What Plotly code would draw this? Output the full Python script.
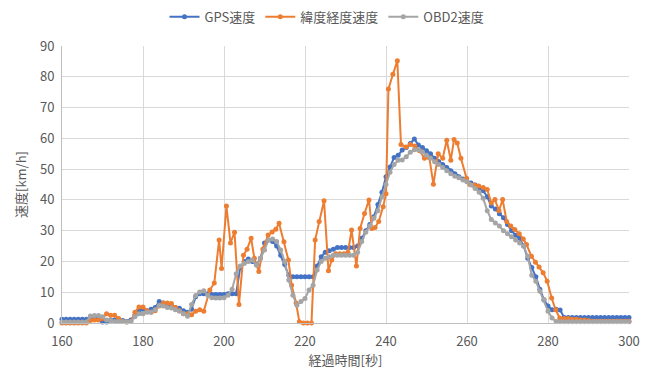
import plotly.graph_objects as go

# Elapsed time [s] for the GPS and OBD2 series (1 Hz)
time_s = list(range(160, 301))

# GPS speed [km/h]
gps_speed = [
    1.2, 1.2, 1.2, 1.2, 1.2, 1.2, 1.2, 1.2, 1.5, 1.5,      # 160-169
    0.3, 0.3, 1.0, 1.0, 0.8, 0.8, 0.5, 1.0, 2.5, 4.0,      # 170-179
    4.5, 4.0, 4.5, 5.0, 7.0, 6.5, 6.0, 5.5, 5.0, 4.8,      # 180-189
    4.0, 3.5, 4.5, 8.5, 9.5, 9.5, 9.5, 9.3, 9.3, 9.3,      # 190-199
    9.3, 9.5, 9.5, 9.5, 18.0, 20.0, 20.8, 20.0, 19.0, 21.0,  # 200-209
    26.0, 27.0, 26.5, 25.0, 22.0, 19.0, 15.5, 15.0, 15.0, 15.0,  # 210-219
    15.0, 15.0, 15.0, 18.5, 21.5, 23.0, 23.5, 24.0, 24.5, 24.5,  # 220-229
    24.5, 24.5, 24.5, 25.0, 27.5, 30.0, 32.0, 34.5, 38.5, 42.5,  # 230-239
    47.5, 50.7, 53.8, 54.5, 56.2, 57.0, 58.3, 59.8, 57.8, 57.0,  # 240-249
    56.0, 55.0, 53.5, 52.5, 51.5, 50.5, 49.5, 48.5, 47.5, 46.8,  # 250-259
    46.0, 45.5, 44.8, 44.0, 43.0, 41.0, 38.0, 37.0, 35.5, 34.2,  # 260-269
    32.0, 30.0, 28.5, 27.5, 25.0, 21.0, 18.0, 15.0, 11.0, 7.5,   # 270-279
    5.5, 4.3, 4.5, 4.2, 1.8, 1.8, 1.8, 1.8, 1.8, 1.8,            # 280-289
    1.8, 1.8, 1.8, 1.8, 1.8, 1.8, 1.8, 1.8, 1.8, 1.8,            # 290-299
    1.8,                                                         # 300
]

# OBD2 speed [km/h]
obd2_speed = [
    0.3, 0.3, 0.3, 0.3, 0.3, 0.3, 0.3, 2.3, 2.4, 2.4,      # 160-169
    2.0, 1.0, 0.8, 0.5, 0.5, 0.5, 0.3, 0.5, 2.0, 3.0,      # 170-179
    3.0, 3.5, 3.5, 4.3, 5.7, 5.5, 5.0, 4.9, 4.3, 3.8,      # 180-189
    3.0, 2.2, 6.0, 8.9, 10.1, 10.5, 9.0, 8.2, 8.1, 8.1,    # 190-199
    8.2, 9.0, 11.0, 16.0, 18.5, 19.3, 20.0, 20.5, 18.8, 21.0,  # 200-209
    23.7, 27.0, 27.3, 26.5, 23.7, 20.0, 14.0, 9.0, 5.8, 7.0,   # 210-219
    8.0, 10.7, 12.3, 17.2, 20.0, 21.0, 21.5, 22.0, 22.0, 22.0,  # 220-229
    22.0, 22.0, 22.0, 23.0, 26.5, 29.5, 31.5, 34.0, 36.5, 41.0,  # 230-239
    45.0, 49.0, 51.5, 52.9, 53.0, 54.0, 55.5, 56.3, 56.3, 55.6,  # 240-249
    54.5, 53.5, 52.4, 51.5, 50.5, 49.5, 48.5, 47.7, 47.2, 46.5,  # 250-259
    45.9, 44.8, 43.7, 42.5, 40.5, 36.5, 33.6, 32.5, 31.5, 30.0,  # 260-269
    29.0, 28.0, 27.0, 26.0, 25.0, 21.7, 15.5, 13.6, 10.3, 7.6,   # 270-279
    3.8, 1.6, 0.5, 0.4, 0.4, 0.4, 0.4, 0.4, 0.4, 0.4,            # 280-289
    0.4, 0.4, 0.4, 0.4, 0.4, 0.4, 0.4, 0.4, 0.4, 0.4,            # 290-299
    0.4,                                                         # 300
]

# Speed computed from latitude/longitude: its own (irregular) timestamps
latlon_time_s = [
    160, 161, 162, 163, 164, 165, 166, 167, 168, 169,
    170, 171, 172, 173, 174, 175, 176, 177, 178, 179,
    180, 181, 182, 183, 184, 185, 186, 187, 188, 189,
    190, 191, 192, 193, 194, 195, 196.5, 197.6, 198.8, 199.4,
    200.6, 201.6, 202.6, 203.7, 204.8, 205.7, 206.7, 207.5, 208.6, 209.6,
    210.9, 211.9, 212.8, 213.6, 214.8, 215.9, 216.7, 217.8, 218.6, 219.6,
    220.6, 221.6, 222.5, 223.5, 224.7, 225.8, 226.6, 227.6, 228.6, 229.6,
    230.6, 231.5, 232.7, 233.6, 234.7, 235.8, 236.5, 237.3, 238.2, 239.3,
    240.0, 240.6, 241.7, 242.8, 243.7, 244.9, 246.0, 247.1, 248.3, 249.5,
    250.7, 251.7, 252.9, 254.0, 255.0, 256.0, 256.8, 257.6, 258.5, 259.9,
    260.7, 261.8, 262.9, 264.0, 265.0, 266.0, 266.9, 267.9, 268.8, 269.8,
    270.8, 271.8, 272.9, 273.9, 274.7, 275.9, 276.9, 277.8, 278.8, 279.8,
    280.9, 281.9, 282.9, 284, 285, 286, 287, 288, 289, 290,
    291, 292, 293, 294, 295, 296, 297, 298, 299, 300,
]
latlon_speed = [
    0.0, 0.0, 0.0, 0.0, 0.0, 0.0, 0.0, 0.8, 1.0, 1.0,
    1.5, 3.0, 2.5, 2.5, 1.5, 0.5, 0.3, 0.5, 3.5, 5.2,
    5.2, 4.0, 3.5, 4.0, 5.5, 6.5, 6.5, 6.3, 5.0, 4.0,
    3.0, 3.0, 2.7, 3.8, 4.3, 3.8, 10.7, 13.0, 27.0, 17.7,
    38.0, 26.0, 29.5, 6.0, 22.0, 24.0, 27.5, 21.0, 16.7, 24.0,
    28.6, 29.6, 30.5, 32.4, 26.4, 20.5, 12.3, 6.5, 0.4, 0.0,
    0.0, 0.0, 27.0, 33.0, 39.7, 17.0, 20.5, 22.5, 22.5, 22.5,
    23.0, 30.2, 18.5, 30.7, 35.6, 40.0, 30.7, 31.0, 33.0, 37.8,
    42.0, 76.0, 80.8, 85.2, 58.0, 57.2, 58.0, 57.5, 56.0, 53.5,
    53.7, 45.1, 55.0, 53.5, 59.4, 52.9, 59.6, 58.5, 53.5, 47.0,
    45.0, 44.8, 44.5, 44.0, 43.4, 39.0, 40.1, 36.5, 40.1, 33.0,
    31.5, 30.4, 29.0, 27.3, 25.5, 21.7, 19.7, 18.2, 16.3, 13.6,
    8.1, 4.3, 1.6, 1.5, 1.5, 1.2, 1.2, 1.0, 1.0, 0.8,
    0.6, 0.6, 0.6, 0.6, 0.6, 0.6, 0.6, 0.6, 0.6, 0.6,
]

x_ticks = [160, 180, 200, 220, 240, 260, 280, 300]
y_ticks = [0, 10, 20, 30, 40, 50, 60, 70, 80, 90]

FONT = "Noto Sans CJK JP"
TEXT = "#595959"
GRID = "#D9D9D9"

series = [
    ("GPS速度", time_s, gps_speed, "#4472C4"),
    ("緯度経度速度", latlon_time_s, latlon_speed, "#ED7D31"),
    ("OBD2速度", time_s, obd2_speed, "#A5A5A5"),
]

fig = go.Figure()
for name, xs, ys, color in series:
    fig.add_trace(go.Scatter(
        x=xs, y=ys, name=name, mode="lines+markers",
        line=dict(color=color, width=2),
        marker=dict(color=color, size=5),
        cliponaxis=False,
    ))

fig.update_layout(
    width=654, height=372,
    margin=dict(l=62, r=25, t=46, b=49, autoexpand=False),
    paper_bgcolor="white", plot_bgcolor="white",
    font=dict(family=FONT, size=13, color=TEXT),
    showlegend=True,
    legend=dict(
        orientation="h", xref="container", x=0.5, xanchor="center",
        yref="container", y=0.995, yanchor="top",
        font=dict(family=FONT, size=13, color=TEXT),
        itemwidth=30, tracegroupgap=0,
    ),
)
fig.update_xaxes(
    range=[160, 300], tickvals=x_ticks, ticktext=[str(v) for v in x_ticks],
    automargin=False,
    showgrid=True, gridcolor=GRID, gridwidth=1, zeroline=False,
    showline=True, linecolor="#BFBFBF", linewidth=1,
    ticks="", ticklabelstandoff=6,
    tickfont=dict(family=FONT, size=13, color=TEXT),
    title=dict(text="経過時間[秒]", font=dict(family=FONT, size=13, color=TEXT), standoff=4),
)
fig.update_yaxes(
    range=[0, 90], tickvals=y_ticks, ticktext=[str(v) for v in y_ticks],
    automargin=False,
    showgrid=True, gridcolor=GRID, gridwidth=1, zeroline=False,
    showline=True, linecolor="#BFBFBF", linewidth=1,
    ticks="", ticklabelstandoff=4,
    tickfont=dict(family=FONT, size=13, color=TEXT),
    title=dict(text="速度[km/h]", font=dict(family=FONT, size=13, color=TEXT), standoff=10),
)

fig.write_html("out.html")
